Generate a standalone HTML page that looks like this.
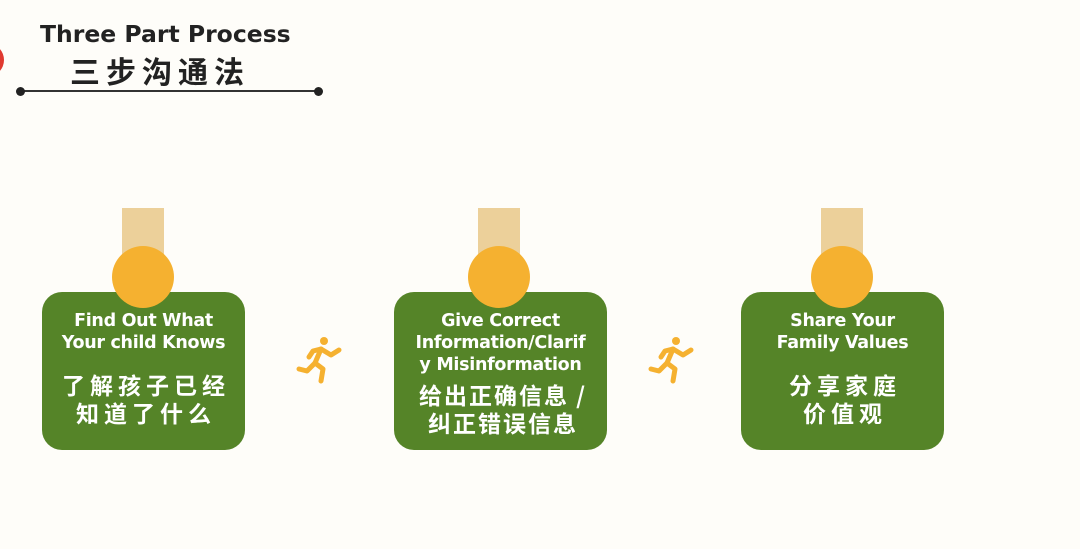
<!DOCTYPE html>
<html><head><meta charset="utf-8"><style>
body{margin:0;width:1080px;height:549px;background:#fefdf9;position:relative;overflow:hidden;font-family:"DejaVu Sans","Noto Sans CJK SC",sans-serif}
.a{position:absolute}
.bar{position:absolute;width:42px;height:60px;top:208px;background:#ecd09a}
.dot{position:absolute;width:62px;height:62px;border-radius:50%;background:#f5b130;top:246px}
.box{position:absolute;top:292px;height:158px;width:203px;background:#558428;border-radius:20px;color:#fff;text-align:center;font-weight:bold}
.en{position:absolute;top:18px;left:-10px;right:-10px;font-size:17.5px;line-height:22px;white-space:nowrap;letter-spacing:-0.3px}
.zh{position:absolute;left:0;right:0;font-size:23px;line-height:28px;letter-spacing:5px;padding-left:5px;font-family:"Noto Sans CJK SC",sans-serif;font-weight:bold}
</style></head><body>
<div class="a" style="left:-26px;top:44px;width:30px;height:32px;border-radius:50%;background:#e03a30"></div>
<div class="a" style="left:40px;top:20px;font-size:23.5px;font-weight:bold;color:#222;white-space:nowrap">Three Part Process</div>
<div class="a" style="left:70px;top:50px;font-size:30px;font-weight:bold;color:#222;font-family:'Noto Sans CJK SC',sans-serif;line-height:40px;letter-spacing:6px">三步沟通法</div>
<div class="a" style="left:20px;top:90px;width:300px;height:2px;background:#333"></div>
<div class="a" style="left:16px;top:87px;width:9px;height:9px;border-radius:50%;background:#222"></div>
<div class="a" style="left:314px;top:87px;width:9px;height:9px;border-radius:50%;background:#222"></div>

<div class="bar" style="left:122px"></div><div class="bar" style="left:478px"></div><div class="bar" style="left:821px"></div>

<div class="box" style="left:42px"><div class="en">Find Out What<br>Your child Knows</div><div class="zh" style="top:78px">了解孩子已经<br>知道了什么</div></div>
<div class="box" style="left:394px;width:213px"><div class="en">Give Correct<br>Information/Clarif<br>y Misinformation</div><div class="zh" style="top:88px;letter-spacing:2px">给出正确信息 /<br>纠正错误信息</div></div>
<div class="box" style="left:741px"><div class="en">Share Your<br>Family Values</div><div class="zh" style="top:78px">分享家庭<br>价值观</div></div>

<div class="dot" style="left:112px"></div><div class="dot" style="left:468px"></div><div class="dot" style="left:811px"></div>

<svg class="a" style="left:295px;top:335px" width="48" height="50" viewBox="0 0 48 50"><g fill="none" stroke="#f5b130" stroke-width="5" stroke-linecap="round" stroke-linejoin="round"><circle cx="29" cy="6" r="4" fill="#f5b130" stroke="none"/><path d="M26 14 L20 28 L28 34 L26 46"/><path d="M20 28 L12 36 L4 34"/><path d="M26 14 L36 20 L44 15"/><path d="M26 14 L18 16 L14 22"/></g></svg>
<svg class="a" style="left:647px;top:335px" width="48" height="50" viewBox="0 0 48 50"><g fill="none" stroke="#f5b130" stroke-width="5" stroke-linecap="round" stroke-linejoin="round"><circle cx="29" cy="6" r="4" fill="#f5b130" stroke="none"/><path d="M26 14 L20 28 L28 34 L26 46"/><path d="M20 28 L12 36 L4 34"/><path d="M26 14 L36 20 L44 15"/><path d="M26 14 L18 16 L14 22"/></g></svg>
</body></html>
